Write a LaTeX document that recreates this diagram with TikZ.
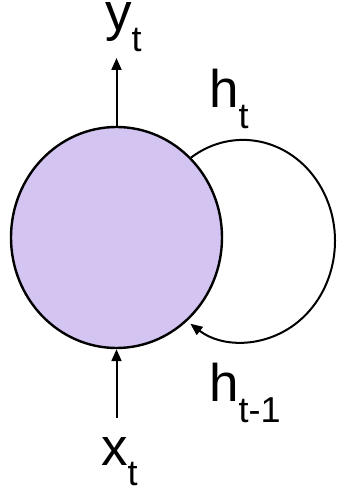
\documentclass[tikz,border=0pt]{standalone}
\usepackage{fontspec}
\setmainfont{Liberation Sans}
\usetikzlibrary{arrows.meta,shapes.geometric}
\definecolor{cellfill}{RGB}{212,196,242}
\newcommand{\mysub}[1]{\raisebox{-21pt}{\fontsize{36}{36}\selectfont #1}}
\begin{document}
\begin{tikzpicture}[x=1pt,y=1pt,
  cell/.style={ellipse, draw=black, line width=2.4pt, fill=cellfill,
    minimum width=211pt, minimum height=221pt, inner sep=0pt},
  lbl/.style={anchor=base west, inner sep=0pt, font=\fontsize{53}{53}\selectfont},
  conn/.style={line width=2pt, -{Triangle[length=12pt,width=10pt]}}]
\useasboundingbox (0,0) rectangle (339,492);
\node[cell] (cell) at (116.5,254.5) {};
\coordinate (ytip) at (116.5,434);
\coordinate (xstart) at (116.5,74);
\draw[conn] (cell.north) -- (ytip);
\draw[conn] (xstart) -- (cell.south);
\draw[conn] (cell.47) arc[start angle=124.4, end angle=-124.9, x radius=92, y radius=101];
\node[lbl] (yt) at (105,461) {y\mysub{t}};
\node[lbl] (ht) at (209,384) {h\mysub{t}};
\node[lbl] (htm) at (209,90) {h\mysub{t-1}};
\node[lbl] (xt) at (101,27) {x\mysub{t}};
\end{tikzpicture}
\end{document}
